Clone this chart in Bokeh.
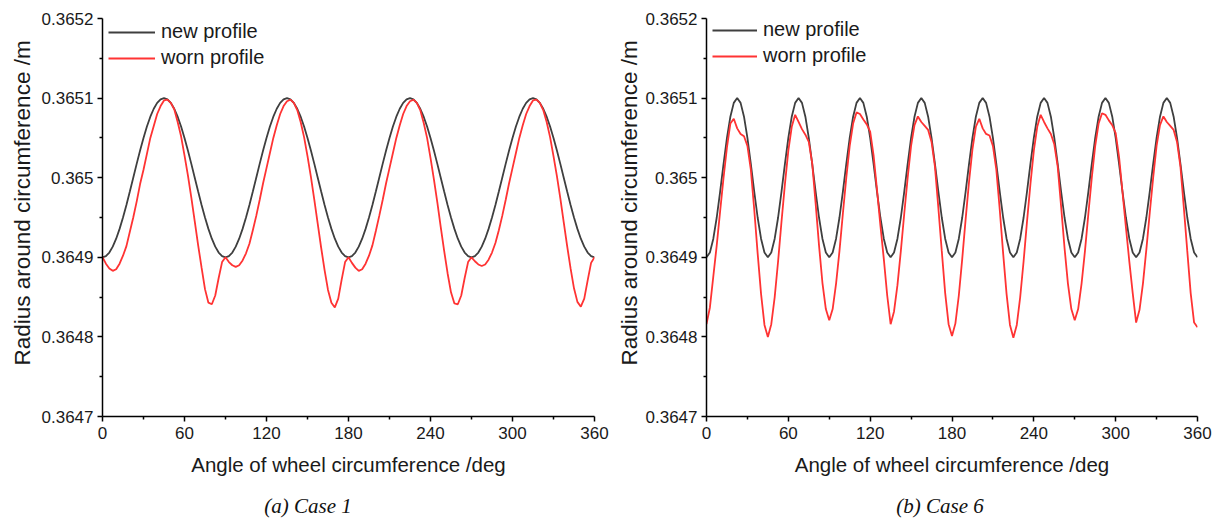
from bokeh.plotting import figure
from bokeh.layouts import row, column
from bokeh.models import Range1d, FixedTicker, Legend, Title, Div
from bokeh.embed import file_html
from bokeh.resources import INLINE

# ---------------- data ----------------
angle_deg = [
    0, 2.5, 5, 7.5, 10, 12.5, 15, 17.5, 20, 22.5, 25, 27.5, 30, 32.5, 35, 37.5, 40, 42.5, 45,
    47.5, 50, 52.5, 55, 57.5, 60, 62.5, 65, 67.5, 70, 72.5, 75, 77.5, 80, 82.5, 85, 87.5, 90,
    92.5, 95, 97.5, 100, 102.5, 105, 107.5, 110, 112.5, 115, 117.5, 120, 122.5, 125, 127.5, 130, 132.5, 135,
    137.5, 140, 142.5, 145, 147.5, 150, 152.5, 155, 157.5, 160, 162.5, 165, 167.5, 170, 172.5, 175, 177.5, 180,
    182.5, 185, 187.5, 190, 192.5, 195, 197.5, 200, 202.5, 205, 207.5, 210, 212.5, 215, 217.5, 220, 222.5, 225,
    227.5, 230, 232.5, 235, 237.5, 240, 242.5, 245, 247.5, 250, 252.5, 255, 257.5, 260, 262.5, 265, 267.5, 270,
    272.5, 275, 277.5, 280, 282.5, 285, 287.5, 290, 292.5, 295, 297.5, 300, 302.5, 305, 307.5, 310, 312.5, 315,
    317.5, 320, 322.5, 325, 327.5, 330, 332.5, 335, 337.5, 340, 342.5, 345, 347.5, 350, 352.5, 355, 357.5, 360,
]

new_profile_case1 = [
    0.3649000, 0.3649015, 0.3649060, 0.3649134, 0.3649234, 0.3649357, 0.3649500, 0.3649658, 0.3649826, 0.3650000,
    0.3650174, 0.3650342, 0.3650500, 0.3650643, 0.3650766, 0.3650866, 0.3650940, 0.3650985, 0.3651000,
    0.3650985, 0.3650940, 0.3650866, 0.3650766, 0.3650643, 0.3650500, 0.3650342, 0.3650174, 0.3650000,
    0.3649826, 0.3649658, 0.3649500, 0.3649357, 0.3649234, 0.3649134, 0.3649060, 0.3649015, 0.3649000,
    0.3649015, 0.3649060, 0.3649134, 0.3649234, 0.3649357, 0.3649500, 0.3649658, 0.3649826, 0.3650000,
    0.3650174, 0.3650342, 0.3650500, 0.3650643, 0.3650766, 0.3650866, 0.3650940, 0.3650985, 0.3651000,
    0.3650985, 0.3650940, 0.3650866, 0.3650766, 0.3650643, 0.3650500, 0.3650342, 0.3650174, 0.3650000,
    0.3649826, 0.3649658, 0.3649500, 0.3649357, 0.3649234, 0.3649134, 0.3649060, 0.3649015, 0.3649000,
    0.3649015, 0.3649060, 0.3649134, 0.3649234, 0.3649357, 0.3649500, 0.3649658, 0.3649826, 0.3650000,
    0.3650174, 0.3650342, 0.3650500, 0.3650643, 0.3650766, 0.3650866, 0.3650940, 0.3650985, 0.3651000,
    0.3650985, 0.3650940, 0.3650866, 0.3650766, 0.3650643, 0.3650500, 0.3650342, 0.3650174, 0.3650000,
    0.3649826, 0.3649658, 0.3649500, 0.3649357, 0.3649234, 0.3649134, 0.3649060, 0.3649015, 0.3649000,
    0.3649015, 0.3649060, 0.3649134, 0.3649234, 0.3649357, 0.3649500, 0.3649658, 0.3649826, 0.3650000,
    0.3650174, 0.3650342, 0.3650500, 0.3650643, 0.3650766, 0.3650866, 0.3650940, 0.3650985, 0.3651000,
    0.3650985, 0.3650940, 0.3650866, 0.3650766, 0.3650643, 0.3650500, 0.3650342, 0.3650174, 0.3650000,
    0.3649826, 0.3649658, 0.3649500, 0.3649357, 0.3649234, 0.3649134, 0.3649060, 0.3649015, 0.3649000,
]

worn_profile_case1 = [
    0.364900, 0.364892, 0.364886, 0.364883, 0.364885, 0.364892, 0.364902, 0.364914, 0.364932, 0.364950,
    0.364970, 0.364992, 0.365010, 0.365030, 0.365050, 0.365065, 0.365080, 0.365090, 0.365097, 0.365098,
    0.365094, 0.365086, 0.365070, 0.365052, 0.365028, 0.365003, 0.364975, 0.364945, 0.364915, 0.364887,
    0.364860, 0.364843, 0.364841, 0.364852, 0.364874, 0.364894, 0.364900,
    0.364894, 0.364890, 0.364888, 0.364890, 0.364896, 0.364905, 0.364917, 0.364934, 0.364952, 0.364972,
    0.364993, 0.365012, 0.365031, 0.365050, 0.365066, 0.365080, 0.365090, 0.365096, 0.365098, 0.365094,
    0.365085, 0.365070, 0.365051, 0.365027, 0.365001, 0.364972, 0.364942, 0.364912, 0.364884, 0.364859,
    0.364843, 0.364837, 0.364848, 0.364872, 0.364894, 0.364900,
    0.364893, 0.364887, 0.364883, 0.364885, 0.364892, 0.364902, 0.364915, 0.364933, 0.364952, 0.364972,
    0.364993, 0.365012, 0.365031, 0.365050, 0.365066, 0.365080, 0.365090, 0.365096, 0.365098, 0.365094,
    0.365085, 0.365069, 0.365050, 0.365025, 0.364998, 0.364969, 0.364938, 0.364908, 0.364880, 0.364856,
    0.364842, 0.364841, 0.364852, 0.364874, 0.364894, 0.364900,
    0.364895, 0.364891, 0.364889, 0.364891, 0.364897, 0.364906, 0.364918, 0.364934, 0.364952, 0.364972,
    0.364993, 0.365012, 0.365031, 0.365050, 0.365066, 0.365080, 0.365090, 0.365097, 0.365098, 0.365094,
    0.365085, 0.365070, 0.365051, 0.365027, 0.365002, 0.364974, 0.364944, 0.364914, 0.364886, 0.364861,
    0.364844, 0.364838, 0.364848, 0.364871, 0.364893, 0.364900,
]

new_profile_case6 = [
    0.3649000, 0.3649060, 0.3649234, 0.3649500, 0.3649826, 0.3650174, 0.3650500, 0.3650766, 0.3650940, 0.3651000,
    0.3650940, 0.3650766, 0.3650500, 0.3650174, 0.3649826, 0.3649500, 0.3649234, 0.3649060, 0.3649000,
    0.3649060, 0.3649234, 0.3649500, 0.3649826, 0.3650174, 0.3650500, 0.3650766, 0.3650940, 0.3651000,
    0.3650940, 0.3650766, 0.3650500, 0.3650174, 0.3649826, 0.3649500, 0.3649234, 0.3649060, 0.3649000,
    0.3649060, 0.3649234, 0.3649500, 0.3649826, 0.3650174, 0.3650500, 0.3650766, 0.3650940, 0.3651000,
    0.3650940, 0.3650766, 0.3650500, 0.3650174, 0.3649826, 0.3649500, 0.3649234, 0.3649060, 0.3649000,
    0.3649060, 0.3649234, 0.3649500, 0.3649826, 0.3650174, 0.3650500, 0.3650766, 0.3650940, 0.3651000,
    0.3650940, 0.3650766, 0.3650500, 0.3650174, 0.3649826, 0.3649500, 0.3649234, 0.3649060, 0.3649000,
    0.3649060, 0.3649234, 0.3649500, 0.3649826, 0.3650174, 0.3650500, 0.3650766, 0.3650940, 0.3651000,
    0.3650940, 0.3650766, 0.3650500, 0.3650174, 0.3649826, 0.3649500, 0.3649234, 0.3649060, 0.3649000,
    0.3649060, 0.3649234, 0.3649500, 0.3649826, 0.3650174, 0.3650500, 0.3650766, 0.3650940, 0.3651000,
    0.3650940, 0.3650766, 0.3650500, 0.3650174, 0.3649826, 0.3649500, 0.3649234, 0.3649060, 0.3649000,
    0.3649060, 0.3649234, 0.3649500, 0.3649826, 0.3650174, 0.3650500, 0.3650766, 0.3650940, 0.3651000,
    0.3650940, 0.3650766, 0.3650500, 0.3650174, 0.3649826, 0.3649500, 0.3649234, 0.3649060, 0.3649000,
    0.3649060, 0.3649234, 0.3649500, 0.3649826, 0.3650174, 0.3650500, 0.3650766, 0.3650940, 0.3651000,
    0.3650940, 0.3650766, 0.3650500, 0.3650174, 0.3649826, 0.3649500, 0.3649234, 0.3649060, 0.3649000,
]

worn_profile_case6 = [
    0.364816, 0.364837, 0.364876, 0.364915, 0.364958, 0.365000, 0.365038, 0.365068, 0.365074, 0.365062,
    0.365055, 0.365052, 0.365040, 0.365010, 0.364960, 0.364905, 0.364854, 0.364815, 0.364800,
    0.364816, 0.364850, 0.364895, 0.364945, 0.364992, 0.365034, 0.365064, 0.365079, 0.365070, 0.365061,
    0.365054, 0.365045, 0.365018, 0.364968, 0.364915, 0.364868, 0.364835, 0.364821,
    0.364835, 0.364867, 0.364908, 0.364955, 0.365000, 0.365040, 0.365068, 0.365082, 0.365080, 0.365073,
    0.365067, 0.365058, 0.365028, 0.364985, 0.364940, 0.364898, 0.364852, 0.364816,
    0.364832, 0.364865, 0.364908, 0.364955, 0.365000, 0.365040, 0.365066, 0.365077, 0.365070, 0.365065,
    0.365060, 0.365045, 0.365014, 0.364962, 0.364908, 0.364855, 0.364816, 0.364801,
    0.364817, 0.364852, 0.364898, 0.364948, 0.364995, 0.365036, 0.365064, 0.365074, 0.365062, 0.365055,
    0.365053, 0.365040, 0.365010, 0.364960, 0.364905, 0.364854, 0.364815, 0.364799,
    0.364815, 0.364850, 0.364895, 0.364945, 0.364992, 0.365034, 0.365064, 0.365079, 0.365070, 0.365062,
    0.365055, 0.365042, 0.365014, 0.364964, 0.364912, 0.364867, 0.364835, 0.364821,
    0.364835, 0.364867, 0.364908, 0.364955, 0.365000, 0.365040, 0.365068, 0.365081, 0.365079, 0.365072,
    0.365066, 0.365056, 0.365026, 0.364982, 0.364938, 0.364895, 0.364855, 0.364818,
    0.364834, 0.364867, 0.364910, 0.364956, 0.365000, 0.365040, 0.365066, 0.365077, 0.365070, 0.365065,
    0.365060, 0.365045, 0.365014, 0.364962, 0.364908, 0.364855, 0.364818, 0.364812,
]

series_labels = ["new profile", "worn profile"]
captions = ["(a) Case 1", "(b) Case 6"]
x_title = "Angle of wheel circumference /deg"
y_title = "Radius around circumference /m"
x_ticks = [0, 60, 120, 180, 240, 300, 360]
x_minor_ticks = [30, 90, 150, 210, 270, 330]
y_ticks = [0.3647, 0.3648, 0.3649, 0.365, 0.3651, 0.3652]
y_tick_labels = ["0.3647", "0.3648", "0.3649", "0.365", "0.3651", "0.3652"]
y_minor_ticks = [0.36475, 0.36485, 0.36495, 0.36505, 0.36515]

NEW_COLOR = "#3f3f3f"
WORN_COLOR = "#ff3333"
FONT = "Liberation Sans"
TEXT_COLOR = "#1a1a1a"


def make_panel(new_r, worn_r, border_left, border_right, legend_xy, glyph_w, title_standoff):
    p = figure(width=610, height=490,
               x_range=Range1d(0, 360), y_range=Range1d(0.3647, 0.3652),
               output_backend="svg", toolbar_location=None,
               min_border_left=border_left, min_border_right=border_right,
               min_border_top=18, min_border_bottom=74, margin=0)
    p.outline_line_color = None
    p.xgrid.visible = False
    p.ygrid.visible = False

    r_new = p.line(angle_deg, new_r, line_color=NEW_COLOR, line_width=1.8)
    r_worn = p.line(angle_deg, worn_r, line_color=WORN_COLOR, line_width=1.8)

    legend = Legend(items=[(series_labels[0], [r_new]), (series_labels[1], [r_worn])],
                    location=legend_xy, padding=0, margin=0, spacing=3,
                    glyph_width=glyph_w, glyph_height=20, label_height=20,
                    label_standoff=6, border_line_alpha=0, background_fill_alpha=0,
                    label_text_font=FONT, label_text_font_size="20px",
                    label_text_color=TEXT_COLOR)
    p.add_layout(legend)

    p.xaxis.ticker = FixedTicker(ticks=x_ticks, minor_ticks=x_minor_ticks)
    p.yaxis.ticker = FixedTicker(ticks=y_ticks, minor_ticks=y_minor_ticks)
    p.yaxis.major_label_overrides = dict(zip(y_ticks, y_tick_labels))
    p.xaxis.axis_label = x_title

    for ax in (p.xaxis[0], p.yaxis[0]):
        ax.axis_line_color = "black"
        ax.axis_line_width = 1.5
        ax.major_tick_line_color = "black"
        ax.major_tick_line_width = 1.5
        ax.major_tick_in = 0
        ax.major_tick_out = 5
        ax.minor_tick_line_color = "black"
        ax.minor_tick_line_width = 1.5
        ax.minor_tick_in = 0
        ax.minor_tick_out = 3
        ax.major_label_text_font = FONT
        ax.major_label_text_font_size = "17px"
        ax.major_label_text_color = TEXT_COLOR
        ax.major_label_standoff = 5
    p.yaxis.major_label_standoff = 4
    p.xaxis.axis_label_text_font = FONT
    p.xaxis.axis_label_text_font_style = "normal"
    p.xaxis.axis_label_text_color = TEXT_COLOR
    p.xaxis.axis_label_standoff = 11
    p.xaxis.axis_label_text_font_size = "20.5px"

    ytitle = Title(text=y_title, align="left", offset=51, standoff=title_standoff,
                   text_font=FONT, text_font_size="22.5px", text_font_style="normal",
                   text_color=TEXT_COLOR)
    p.add_layout(ytitle, "left")
    return p


def make_caption(text, dx):
    html = ('<div style="position:relative;left:%dpx;top:5px;width:610px;text-align:center;'
            'font-family:\'Liberation Serif\';font-style:italic;font-size:21px;'
            'line-height:22px;color:#111111;white-space:nowrap">%s</div>' % (dx, text))
    return Div(text=html, width=610, height=33, margin=0)


p1 = make_panel(new_profile_case1, worn_profile_case1, 102, 16, (6, 347), 47, 8)
p2 = make_panel(new_profile_case6, worn_profile_case6, 96, 23, (6, 349), 45, 2)
c1 = make_caption(captions[0], 3)
c2 = make_caption(captions[1], 25)

layout = row(column(p1, c1, spacing=0), column(p2, c2, spacing=0), spacing=0)
open("out.html", "w").write(file_html(layout, INLINE))
